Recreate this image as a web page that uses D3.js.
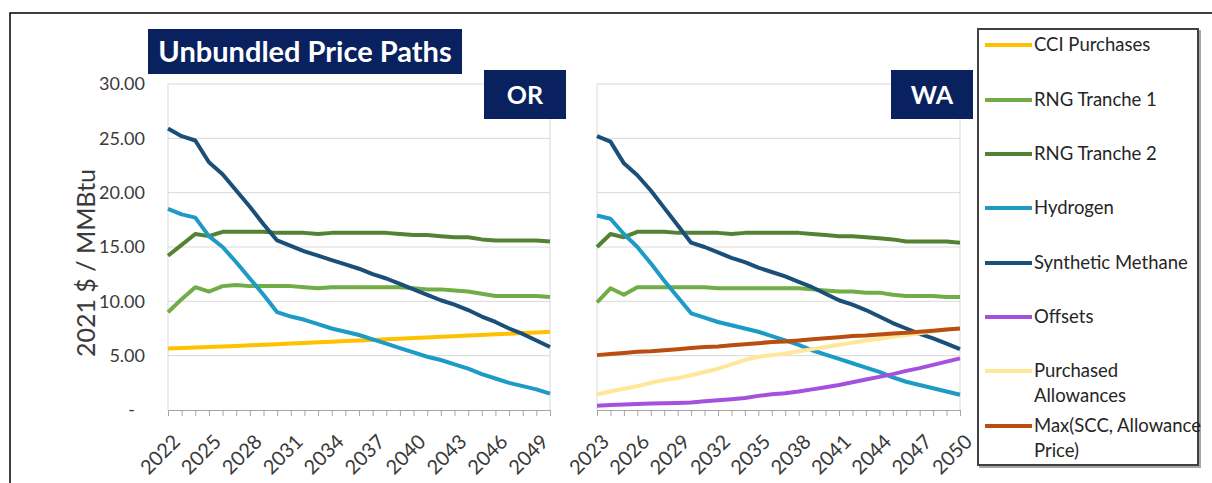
<!DOCTYPE html>
<html>
<head>
<meta charset="utf-8">
<script src="https://cdn.jsdelivr.net/npm/d3@7"></script>
<style>
  body { margin: 0; background: #fff; }
  svg { display: block; font-family: Lato, "Open Sans", sans-serif; }
</style>
</head>
<body>
<svg id="chart" width="1212" height="483"></svg>
<script>
// ---- Categories ----
const orYears = [2022, 2023, 2024, 2025, 2026, 2027, 2028, 2029, 2030, 2031, 2032, 2033, 2034, 2035, 2036,
  2037, 2038, 2039, 2040, 2041, 2042, 2043, 2044, 2045, 2046, 2047, 2048, 2049, 2050];
const waYears = [2023, 2024, 2025, 2026, 2027, 2028, 2029, 2030, 2031, 2032, 2033, 2034, 2035, 2036,
  2037, 2038, 2039, 2040, 2041, 2042, 2043, 2044, 2045, 2046, 2047, 2048, 2049, 2050];

// ---- Tick labels ----
const yTicks = [0, 5, 10, 15, 20, 25, 30];
const orTickLabels = [2022, 2025, 2028, 2031, 2034, 2037, 2040, 2043, 2046, 2049];
const waTickLabels = [2023, 2026, 2029, 2032, 2035, 2038, 2041, 2044, 2047, 2050];

// ---- Oregon series (2021 $ / MMBtu) ----
const orCCI = [5.65, 5.70, 5.75, 5.80, 5.85, 5.90, 5.95, 6.00, 6.05, 6.11, 6.17, 6.23, 6.28, 6.34, 6.40,
  6.45, 6.51, 6.56, 6.62, 6.68, 6.73, 6.79, 6.85, 6.90, 6.96, 7.02, 7.08, 7.14, 7.20];
const orRNG1 = [9.0, 10.2, 11.3, 10.9, 11.4, 11.5, 11.4, 11.4, 11.4, 11.4, 11.3, 11.2, 11.3, 11.3, 11.3,
  11.3, 11.3, 11.3, 11.2, 11.1, 11.1, 11.0, 10.9, 10.7, 10.5, 10.5, 10.5, 10.5, 10.4];
const orRNG2 = [14.2, 15.2, 16.2, 16.0, 16.4, 16.4, 16.4, 16.4, 16.3, 16.3, 16.3, 16.2, 16.3, 16.3, 16.3,
  16.3, 16.3, 16.2, 16.1, 16.1, 16.0, 15.9, 15.9, 15.7, 15.6, 15.6, 15.6, 15.6, 15.5];
const orHydrogen = [18.5, 18.0, 17.7, 16.0, 15.0, 13.6, 12.1, 10.6, 9.0, 8.6, 8.3, 7.9, 7.5, 7.2, 6.9,
  6.5, 6.1, 5.7, 5.3, 4.9, 4.6, 4.2, 3.8, 3.3, 2.9, 2.5, 2.2, 1.9, 1.5];
const orSynMethane = [25.9, 25.2, 24.8, 22.8, 21.7, 20.2, 18.7, 17.1, 15.6, 15.1, 14.6, 14.2, 13.8, 13.4, 13.0,
  12.5, 12.1, 11.6, 11.1, 10.6, 10.1, 9.7, 9.2, 8.6, 8.1, 7.5, 7.0, 6.4, 5.8];

// ---- Washington series (2021 $ / MMBtu) ----
const waRNG1 = [9.9, 11.2, 10.6, 11.3, 11.3, 11.3, 11.3, 11.3, 11.3, 11.2, 11.2, 11.2, 11.2, 11.2,
  11.2, 11.2, 11.1, 11.0, 10.9, 10.9, 10.8, 10.8, 10.6, 10.5, 10.5, 10.5, 10.4, 10.4];
const waRNG2 = [15.0, 16.2, 15.9, 16.4, 16.4, 16.4, 16.3, 16.3, 16.3, 16.3, 16.2, 16.3, 16.3, 16.3,
  16.3, 16.3, 16.2, 16.1, 16.0, 16.0, 15.9, 15.8, 15.7, 15.5, 15.5, 15.5, 15.5, 15.4];
const waHydrogen = [17.9, 17.6, 16.2, 15.0, 13.5, 11.9, 10.4, 8.9, 8.5, 8.1, 7.8, 7.5, 7.2, 6.8,
  6.4, 6.0, 5.5, 5.1, 4.7, 4.3, 3.9, 3.5, 3.0, 2.6, 2.3, 2.0, 1.7, 1.4];
const waSynMethane = [25.2, 24.7, 22.7, 21.6, 20.2, 18.6, 17.0, 15.4, 15.0, 14.5, 14.0, 13.6, 13.1, 12.7,
  12.3, 11.8, 11.3, 10.7, 10.1, 9.7, 9.2, 8.6, 8.0, 7.5, 7.0, 6.6, 6.1, 5.6];
const waOffsets = [0.40, 0.45, 0.50, 0.55, 0.60, 0.62, 0.65, 0.70, 0.80, 0.90, 1.00, 1.10, 1.30, 1.45,
  1.55, 1.70, 1.90, 2.10, 2.30, 2.55, 2.80, 3.05, 3.30, 3.60, 3.85, 4.15, 4.45, 4.75];
const waPurchased = [1.45, 1.70, 1.95, 2.20, 2.50, 2.75, 2.95, 3.20, 3.50, 3.80, 4.20, 4.60, 4.90, 5.05,
  5.20, 5.40, 5.60, 5.80, 6.00, 6.20, 6.40, 6.55, 6.75, 6.90, 7.05, 7.25, 7.40, 7.50];
const waMaxScc = [5.05, 5.15, 5.25, 5.35, 5.40, 5.50, 5.60, 5.70, 5.80, 5.85, 5.95, 6.05, 6.15, 6.25,
  6.30, 6.40, 6.50, 6.60, 6.70, 6.80, 6.85, 6.95, 7.05, 7.10, 7.20, 7.30, 7.40, 7.50];

// ---- Legend ----
const seriesNames = ["CCI Purchases", "RNG Tranche 1", "RNG Tranche 2", "Hydrogen",
  "Synthetic Methane", "Offsets", "Purchased Allowances", "Max(SCC, Allowance Price)"];
const seriesColors = ["#ffc000", "#70ad47", "#548235", "#1d9bc6", "#1a4f7a", "#a452dd", "#ffe699", "#b84e10"];
const legendLines = [["CCI Purchases"], ["RNG Tranche 1"], ["RNG Tranche 2"], ["Hydrogen"],
  ["Synthetic Methane"], ["Offsets"], ["Purchased", "Allowances"], ["Max(SCC, Allowance", "Price)"]];

const color = d3.scaleOrdinal().domain(seriesNames).range(seriesColors);

const svg = d3.select("#chart");

// outer frame (runs past the right and bottom edges)
svg.append("rect")
  .attr("x", 10).attr("y", 13).attr("width", 1240).attr("height", 520)
  .attr("fill", "none").attr("stroke", "#000").attr("stroke-width", 1.5);

const y = d3.scaleLinear().domain([0, 30]).range([410, 84]);

function drawPanel(years, series, x0, x1, tickLabels, showYAxis) {
  const x = d3.scalePoint().domain(years).range([x0, x1]);
  const g = svg.append("g");

  // horizontal gridlines
  g.selectAll("line.grid").data(yTicks.filter(d => d > 0)).join("line")
    .attr("class", "grid")
    .attr("x1", x0).attr("x2", x1)
    .attr("y1", d => y(d)).attr("y2", d => y(d))
    .attr("stroke", "#d9d9d9").attr("stroke-width", 1);

  // plot-area sides
  [x0, x1].forEach(xv => {
    g.append("line").attr("x1", xv).attr("x2", xv).attr("y1", y(30)).attr("y2", y(0))
      .attr("stroke", "#d9d9d9").attr("stroke-width", 1);
  });

  if (showYAxis) {
    const ya = d3.axisLeft(y).tickValues(yTicks).tickSize(0).tickPadding(23)
      .tickFormat(d => d === 0 ? "-" : d3.format(".2f")(d));
    const gy = g.append("g").attr("transform", `translate(${x0},0)`).call(ya);
    gy.select(".domain").remove();
    gy.selectAll(".tick text")
      .attr("font-family", "Lato, sans-serif").attr("font-size", 18).attr("fill", "#3a3a3a")
      .filter(d => d === 0).attr("dx", -10);
  }

  const xa = d3.axisBottom(x).tickSize(6).tickSizeOuter(0)
    .tickFormat(d => tickLabels.includes(d) ? String(d) : "");
  const gx = g.append("g").attr("transform", `translate(0,${y(0)})`).call(xa);
  gx.select(".domain").attr("stroke", "#a6a6a6");
  gx.selectAll(".tick line").attr("stroke", "#a6a6a6");
  gx.selectAll(".tick text")
    .attr("font-family", "Lato, sans-serif").attr("font-size", 20).attr("fill", "#3a3a3a")
    .attr("text-anchor", "end").attr("x", 0).attr("y", 0).attr("dy", "0.35em")
    .attr("transform", "translate(8,28) rotate(-45)");

  const line = d3.line().x((d, i) => x(years[i])).y(d => y(d)).curve(d3.curveLinear);
  g.selectAll("path.series").data(series).join("path")
    .attr("class", "series")
    .attr("d", d => line(d.values))
    .attr("fill", "none")
    .attr("stroke", d => color(d.name))
    .attr("stroke-width", 4)
    .attr("stroke-linejoin", "round");
}

drawPanel(orYears, [
  { name: "CCI Purchases", values: orCCI },
  { name: "RNG Tranche 1", values: orRNG1 },
  { name: "RNG Tranche 2", values: orRNG2 },
  { name: "Hydrogen", values: orHydrogen },
  { name: "Synthetic Methane", values: orSynMethane }
], 168, 550, orTickLabels, true);

drawPanel(waYears, [
  { name: "RNG Tranche 1", values: waRNG1 },
  { name: "RNG Tranche 2", values: waRNG2 },
  { name: "Hydrogen", values: waHydrogen },
  { name: "Synthetic Methane", values: waSynMethane },
  { name: "Offsets", values: waOffsets },
  { name: "Purchased Allowances", values: waPurchased },
  { name: "Max(SCC, Allowance Price)", values: waMaxScc }
], 597, 960, waTickLabels, false);

// y-axis title
svg.append("text")
  .attr("transform", "translate(86,263) rotate(-90)")
  .attr("text-anchor", "middle").attr("dy", "0.35em")
  .attr("font-size", 25).attr("fill", "#3a3a3a")
  .text("2021 $ / MMBtu");

// title and state badges
function badge(x, yTop, w, h, label, size) {
  svg.append("rect").attr("x", x).attr("y", yTop).attr("width", w).attr("height", h).attr("fill", "#0a215f");
  svg.append("text").attr("x", x + w / 2).attr("y", yTop + h / 2).attr("dy", "0.36em")
    .attr("text-anchor", "middle").attr("fill", "#fff").attr("font-weight", "bold")
    .attr("font-size", size).text(label);
}
badge(148, 29, 314, 45, "Unbundled Price Paths", 29);
badge(484, 70, 82, 49, "OR", 25);
badge(891, 70, 82, 49, "WA", 25);

// legend
const lg = svg.append("g");
lg.append("rect").attr("x", 980).attr("y", 31).attr("width", 220).attr("height", 436)
  .attr("fill", "none").attr("stroke", "#a6a6a6").attr("stroke-width", 2);
lg.append("rect").attr("x", 978).attr("y", 29).attr("width", 220).attr("height", 436)
  .attr("fill", "#fff").attr("stroke", "#404040").attr("stroke-width", 2);
const legendY = [45, 100, 154, 208, 263, 317, 371, 426];
const items = lg.selectAll("g.item").data(seriesNames).join("g")
  .attr("class", "item")
  .attr("transform", (d, i) => `translate(0,${legendY[i]})`);
items.append("line").attr("x1", 985).attr("x2", 1032).attr("y1", 0).attr("y2", 0)
  .attr("stroke", d => color(d)).attr("stroke-width", 4);
items.each(function (d, i) {
  const t = d3.select(this).append("text").attr("x", 1034).attr("y", 0)
    .attr("font-size", 18.5).attr("fill", "#262626");
  legendLines[i].forEach((s, k) => {
    t.append("tspan").attr("x", 1034).attr("dy", k === 0 ? "0.35em" : "24.5").text(s);
  });
});
</script>
</body>
</html>
